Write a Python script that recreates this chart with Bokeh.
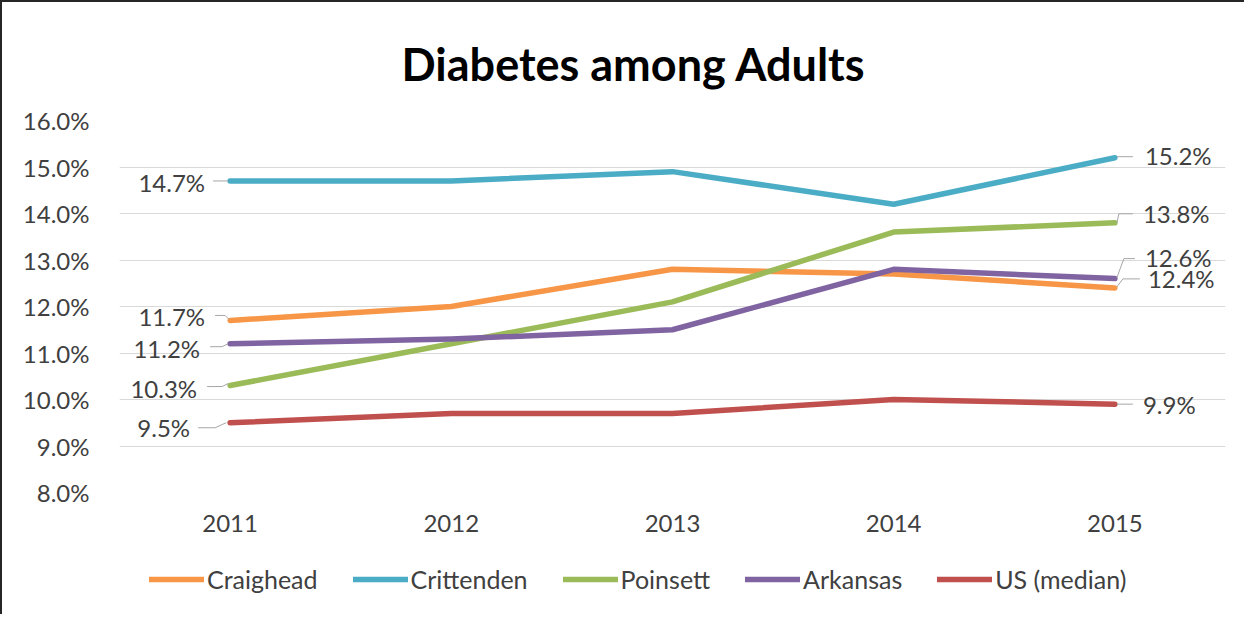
from bokeh.plotting import figure
from bokeh.layouts import column
from bokeh.models import Range1d, FixedTicker, PrintfTickFormatter, Legend, LegendItem
from bokeh.core.properties import value
from bokeh.embed import file_html
from bokeh.resources import INLINE

# ---- data ----
years = ["2011", "2012", "2013", "2014", "2015"]
craighead = [11.7, 12.0, 12.8, 12.7, 12.4]
crittenden = [14.7, 14.7, 14.9, 14.2, 15.2]
poinsett = [10.3, 11.2, 12.1, 13.6, 13.8]
arkansas = [11.2, 11.3, 11.5, 12.8, 12.6]
us_median = [9.5, 9.7, 9.7, 10.0, 9.9]
series_names = ["Craighead", "Crittenden", "Poinsett", "Arkansas", "US (median)"]
y_ticks = [8, 9, 10, 11, 12, 13, 14, 15, 16]
title_text = "Diabetes among Adults"

# ---- styles ----
colors = ["#F79646", "#4BACC6", "#9BBB59", "#8064A2", "#C0504D"]
FONT = "Lato"
TXT = "#404040"
FRAME_W, FRAME_H = 1106, 372
X0, X1 = -0.5, 4.5
Y0, Y1 = 8, 16
PXX = (X1 - X0) / FRAME_W
PXY = (Y1 - Y0) / FRAME_H

# label offsets (pixels, screen: +y down) for first and last points
first_off = [(-25, -4), (-25, 2), (-33, 3), (-30, 5), (-40, 5)]
last_off = [(33, -9), (30, -2), (28, -9), (30, -21), (28, 0)]
first_lead = [[(-15, -5), (-5, -5), (-1, -1)],
              [(-17, 0), (-2, 0)],
              [(-23, 1), (-8, 1), (-2, -2)],
              [(-20, 3), (-8, 3), (-2, 0)],
              [(-32, 5), (-15, 5), (-4, 0)]]
last_lead = [[(2, -1), (8, -9), (25, -9)],
             [(2, -1), (18, -1)],
             [(2, 0), (4, -9), (18, -9)],
             [(2, -1), (9, -20), (20, -20)],
             [(2, 0), (18, 0)]]

series = [craighead, crittenden, poinsett, arkansas, us_median]
xs = list(range(len(years)))

p = figure(width=1244, height=542, output_backend="svg", toolbar_location=None,
           x_range=Range1d(X0, X1), y_range=Range1d(Y0, Y1),
           min_border_left=117, min_border_right=21, min_border_top=118, min_border_bottom=52,
           title=title_text)
p.styles = {"border-left": "2px solid #262626", "border-top": "2px solid #262626"}
p.outline_line_color = None
p.background_fill_color = "white"
p.border_fill_color = "white"

p.title.text_font = FONT
p.title.text_font_size = "45px"
p.title.text_font_style = "bold"
p.title.text_color = "black"
p.title.align = "left"
p.title.offset = 282
p.title.standoff = 60

p.xgrid.visible = False
p.ygrid.grid_line_color = "#d9d9d9"
p.ygrid.grid_line_width = 1

p.yaxis.ticker = FixedTicker(ticks=y_ticks)
p.yaxis.formatter = PrintfTickFormatter(format="%.1f%%")
p.xaxis.ticker = FixedTicker(ticks=xs)
p.xaxis.major_label_overrides = {i: y for i, y in enumerate(years)}
for ax in (p.xaxis, p.yaxis):
    ax.axis_line_color = None
    ax.major_tick_line_color = None
    ax.minor_tick_line_color = None
    ax.major_label_text_font = FONT
    ax.major_label_text_font_size = "24px"
    ax.major_label_text_color = TXT
p.yaxis.major_label_standoff = 24
p.xaxis.major_label_standoff = 16

for name, vals, col in zip(series_names, series, colors):
    p.line(xs, vals, line_color=col, line_width=5.5, line_cap="round", line_join="round")

for k, vals in enumerate(series):
    for idx, off, lead, align in ((0, first_off[k], first_lead[k], "right"),
                                   (len(vals) - 1, last_off[k], last_lead[k], "left")):
        v = vals[idx]
        lx = [idx + dx * PXX for dx, dy in lead]
        ly = [v - dy * PXY for dx, dy in lead]
        p.line(lx, ly, line_color="#a6a6a6", line_width=1)
        p.text([idx], [v], text=[f"{v:.1f}%"], x_offset=off[0], y_offset=off[1],
               text_align=align, text_baseline="middle", text_font=value(FONT),
               text_font_size="24px", text_color=TXT)

# legend strip below the chart (its frame is aligned with the chart's frame);
# the series lines here lie outside its visible range, only the legend shows
p2 = figure(width=1244, height=72, output_backend="svg", toolbar_location=None,
            x_axis_type=None, y_axis_type=None, x_range=Range1d(0, 1), y_range=Range1d(-2, -1),
            min_border_left=0, min_border_right=0, min_border_top=0, min_border_bottom=0)
p2.styles = {"border-left": "2px solid #262626"}
p2.outline_line_color = None
p2.xgrid.visible = False
p2.ygrid.visible = False
items = []
for name, vals, col in zip(series_names, series, colors):
    r = p2.line(xs, vals, line_color=col, line_width=5.5, line_cap="round")
    items.append(LegendItem(label=name, renderers=[r]))
legend = Legend(items=items, orientation="horizontal", location=(30, 20))
legend.glyph_width = 55
legend.label_standoff = 3
legend.spacing = 35
legend.padding = 0
legend.margin = 0
legend.border_line_color = None
legend.background_fill_alpha = 0
legend.label_text_font = FONT
legend.label_text_font_size = "25px"
legend.label_text_color = TXT
p2.add_layout(legend, "center")

layout = column(p, p2, spacing=0)
open("out.html", "w").write(file_html(layout, INLINE))
